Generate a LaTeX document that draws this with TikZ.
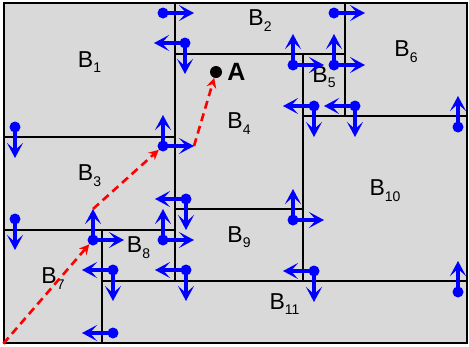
\documentclass[tikz,border=0pt]{standalone}
\usepackage{fontspec}
\setmainfont{Liberation Sans}
\usetikzlibrary{arrows.meta, positioning, fit}
\definecolor{blkgray}{HTML}{D9D9D9}
\newcommand{\sbs}[1]{\raisebox{-5.5pt}{\fontsize{14}{14}\selectfont #1}}

\begin{document}
\begin{tikzpicture}[x=1pt, y=-1pt,
      blk/.style={draw, fill=blkgray, line width=1.3pt, inner sep=0pt, text depth=0pt,
                  font=\fontsize{23}{24}\selectfont},
      dot/.style={circle, fill=blue, inner sep=0pt, minimum size=11pt},
      barr/.style={-{Stealth[length=15pt, width=16pt, inset=7pt]}, blue, line width=3.6pt},
      rarr/.style={-{Stealth[length=10pt, width=10pt, inset=3.5pt]}, red, line width=2.6pt,
                   dash pattern=on 8pt off 5pt}]
    \useasboundingbox (0,0) rectangle (469,346);
    % blocks
    \foreach \n/\xa/\ya/\xb/\yb in {1/4/3/175/137, 2/175/3/345/54, 3/4/137/175/230,
        4/175/54/303/209, 5/303/54/345/116, 6/345/3/467/116, 7/4/230/102/343,
        8/102/230/175/281, 9/175/209/303/281, 10/303/116/467/281, 11/102/281/467/343}
      \node[blk, fit={(\xa,\ya) (\xb,\yb)}] (b\n) {B\sbs{\n}};
    % probes
    \foreach \i/\x/\y/\dirs in {1/163/13/{0}, 2/185/43/{180,90}, 3/15/127/{90},
        4/163/146/{270,0}, 5/334/13/{0}, 6/293/65/{270,0}, 7/334/65/{270,0},
        8/314/106/{180,90}, 9/355/106/{180,90}, 10/458/127/{270}, 11/15/219/{90},
        12/93/240/{270,0}, 13/186/199/{180,90}, 14/163/240/{270,0}, 15/113/270/{180,90},
        16/186/270/{180,90}, 17/113/333/{180}, 18/293/220/{270,0}, 19/314/271/{180,90},
        20/458/292/{270}} {
      \node[dot] (d\i) at (\x,\y) {};
      \foreach \a in \dirs {
        \path (d\i.center) ++(\a:31) coordinate (d\i-\a);
        \draw[barr] (d\i.center) -- (d\i-\a);
      }
    }
    \node[circle, fill=black, inner sep=0pt, minimum size=12pt] (ptA) at (216,72) {};
    \node[right=5pt of ptA, inner sep=0pt, font=\bfseries\fontsize{25}{25}\selectfont] (lblA) {A};
    % path to A
    \coordinate (org) at (b7.south west);
    \draw[rarr] (org) -- (d12);
    \draw[rarr] (d12-270) -- (d4);
    \draw[rarr] (d4-0) -- (ptA);
  \end{tikzpicture}
\end{document}
